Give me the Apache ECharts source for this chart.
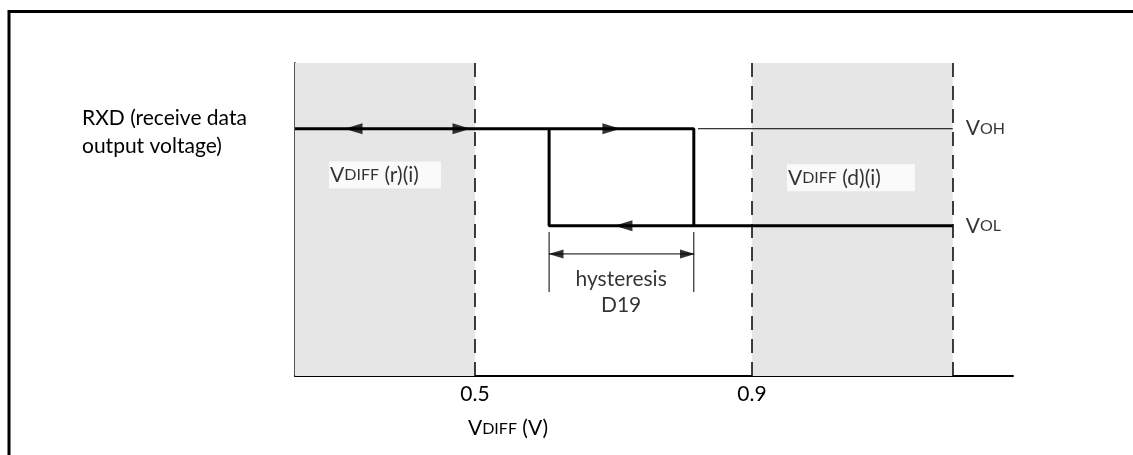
<!DOCTYPE html>
<html>
<head>
<meta charset="utf-8">
<script src="https://cdn.jsdelivr.net/npm/echarts@6/dist/echarts.min.js"></script>
<style>
html,body{margin:0;padding:0;background:#fff;}
#c{width:1133px;height:455px;}
</style>
</head>
<body>
<div id="c"></div>
<script>
// ---- data ----
const xMin = 0.24, xMax = 1.277;
const xTicks = [0.5, 0.9];
const recessiveRange = [0.24, 0.5];
const dominantRange = [0.9, 1.19];
const thresholdLines = [0.5, 0.9, 1.19];
const vOH = 0.79, vOL = 0.48;
const hysteresisX = [0.607, 0.816];
const thinVOHX = [0.822, 1.19];
const dimY = 0.39;
const extY = [0.268, 0.46];
const arrowsLeft = [[0.3245, vOH], [0.7144, vOL]];
const arrowsRight = [[0.4805, vOH], [0.697, vOH]];
const dimArrowsLeft = [[0.617, dimY]];
const dimArrowsRight = [[0.8069, dimY]];
const rxdLabel = ['RXD (receive data', 'output voltage)'];

const FONT = 'Lato';
const FS = 21, FSS = 16;
const rich = {
  v: {fontFamily: FONT, fontSize: FS, color: '#000'},
  s: {fontFamily: FONT, fontSize: FSS, color: '#000'}
};

const chart = echarts.init(document.getElementById('c'), null, {renderer: 'canvas'});

const thick = {color: '#000', width: 3};
const thin = {color: '#000', width: 1};
function lineSeries(data, ls, z) {
  return {type: 'line', data: data, symbol: 'none', lineStyle: ls, z: z || 3, silent: true, animation: false};
}
function arrowSeries(data, rot, size) {
  return {type: 'scatter', data: data, symbol: 'triangle', symbolSize: size, symbolRotate: rot,
    itemStyle: {color: '#000'}, z: 5, silent: true, animation: false};
}
function textSeries(pt, fmt, opts) {
  return {type: 'scatter', data: [pt], symbolSize: 0, z: 6, silent: true, animation: false,
    label: Object.assign({show: true, formatter: fmt, rich: rich, fontFamily: FONT, fontSize: FS, color: '#000'}, opts)};
}

const option = {
  animation: false,
  grid: {left: 295, right: 120, top: 63, bottom: 79, containLabel: false},
  xAxis: {
    type: 'value', min: xMin, max: xMax,
    axisLine: {show: true, lineStyle: {color: '#000', width: 2}},
    axisTick: {show: false},
    splitLine: {show: false},
    axisLabel: {show: true, customValues: xTicks, margin: 8, fontFamily: FONT, fontSize: FS, color: '#000',
      formatter: v => String(v)},
    name: '{v|V}{s|DIFF}{v| (V)}',
    nameLocation: 'middle', nameGap: 42,
    nameTextStyle: {rich: rich, padding: [0, 292, 0, 0]}
  },
  yAxis: {
    type: 'value', min: 0, max: 1,
    axisLine: {show: true, lineStyle: {color: '#555', width: 2}},
    axisTick: {show: false}, axisLabel: {show: false}, splitLine: {show: false}
  },
  graphic: [
    {type: 'line', shape: {x1: 8, y1: 11.5, x2: 1133, y2: 11.5}, style: {stroke: '#000', lineWidth: 3}},
    {type: 'line', shape: {x1: 9, y1: 10, x2: 9, y2: 455}, style: {stroke: '#000', lineWidth: 3}},
    {type: 'text', left: 82, top: 104, style: {text: rxdLabel.join('\n'), font: FS + 'px ' + FONT, lineHeight: 28, fill: '#000'}}
  ],
  series: [
    {
      type: 'line', data: [], z: 1, silent: true,
      markArea: {silent: true, itemStyle: {color: '#e6e6e6'},
        data: [
          [{xAxis: recessiveRange[0]}, {xAxis: recessiveRange[1]}],
          [{xAxis: dominantRange[0]}, {xAxis: dominantRange[1]}]
        ]},
      markLine: {silent: true, symbol: 'none', label: {show: false},
        lineStyle: {color: '#000', width: 1.5, type: [14, 9]},
        data: thresholdLines.map(x => ({xAxis: x}))}
    },
    lineSeries([[xMin, vOH], [hysteresisX[1], vOH], [hysteresisX[1], vOL]], thick),
    lineSeries([[dominantRange[1], vOL], [hysteresisX[0], vOL], [hysteresisX[0], vOH]], thick),
    lineSeries([[thinVOHX[0], vOH], [thinVOHX[1], vOH]], thin),
    lineSeries([[hysteresisX[0], dimY], [hysteresisX[1], dimY]], thin),
    lineSeries([[hysteresisX[0], extY[0]], [hysteresisX[0], extY[1]]], thin),
    lineSeries([[hysteresisX[1], extY[0]], [hysteresisX[1], extY[1]]], thin),
    arrowSeries(arrowsLeft, 90, [11, 18]),
    arrowSeries(arrowsRight, -90, [11, 18]),
    arrowSeries(dimArrowsLeft, 90, [9, 15]),
    arrowSeries(dimArrowsRight, -90, [9, 15]),
    textSeries([0.2892, 0.642], '{v|V}{s|DIFF}{v| (r)(i)}', {position: 'right', distance: 0, backgroundColor: '#fff', padding: [3, 22, 3, 1]}),
    textSeries([0.9505, 0.633], '{v|V}{s|DIFF}{v| (d)(i)}', {position: 'right', distance: 0, backgroundColor: '#fff', padding: [3, 34, 3, 1]}),
    textSeries([dominantRange[1], vOH], '{v|V}{s|OH}', {position: 'right', distance: 13}),
    textSeries([dominantRange[1], vOL], '{v|V}{s|OL}', {position: 'right', distance: 13}),
    textSeries([0.711, 0.268], '{v|hysteresis}\n{v|D19}', {position: 'inside', lineHeight: 26, rich: {v: {fontFamily: FONT, fontSize: FS, color: '#000', lineHeight: 26}}})
  ]
};
chart.setOption(option);
</script>
</body>
</html>
